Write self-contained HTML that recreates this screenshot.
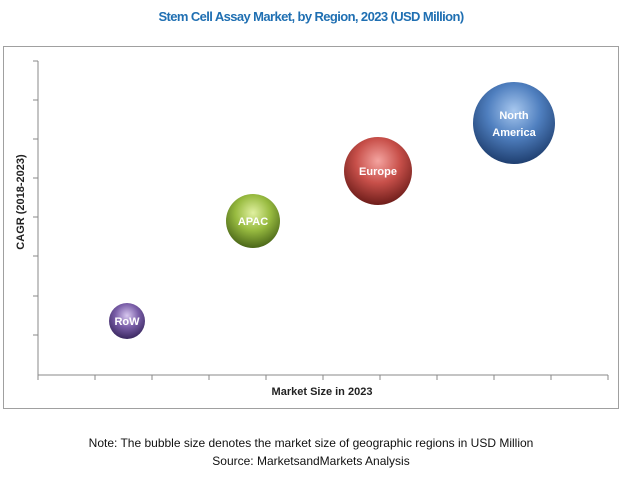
<!DOCTYPE html>
<html><head><style>
body{margin:0;background:#fff;width:623px;height:478px;overflow:hidden;font-family:"Liberation Sans",sans-serif}
</style></head><body>
<svg width="623" height="478" viewBox="0 0 623 478" xmlns="http://www.w3.org/2000/svg">
<defs>
<radialGradient id="gb" cx="0.5" cy="0.35" r="0.65"><stop offset="0" stop-color="#a8c8ef"/><stop offset="0.5" stop-color="#4f7fbf"/><stop offset="1" stop-color="#1f3f70"/></radialGradient>
<radialGradient id="gr" cx="0.5" cy="0.35" r="0.65"><stop offset="0" stop-color="#f4a4a0"/><stop offset="0.5" stop-color="#c8504a"/><stop offset="1" stop-color="#6e1d1a"/></radialGradient>
<radialGradient id="gg" cx="0.5" cy="0.35" r="0.65"><stop offset="0" stop-color="#e0f0a0"/><stop offset="0.5" stop-color="#98bb40"/><stop offset="1" stop-color="#4a6618"/></radialGradient>
<radialGradient id="gp" cx="0.5" cy="0.35" r="0.65"><stop offset="0" stop-color="#d8c8f0"/><stop offset="0.5" stop-color="#7a5ea8"/><stop offset="1" stop-color="#3a2860"/></radialGradient>
</defs>
<text x="311" y="21" text-anchor="middle" font-size="13" font-weight="bold" fill="#1f6fb2" letter-spacing="-0.6">Stem Cell Assay Market, by Region, 2023 (USD Million)</text>
<rect x="3.5" y="46.5" width="615" height="362" fill="none" stroke="#a0a0a0"/>
<g stroke="#888" stroke-width="1">
<line x1="38" y1="61" x2="38" y2="375"/>
<line x1="38" y1="375" x2="608" y2="375"/>
<line x1="33" y1="61" x2="38" y2="61"/><line x1="33" y1="100" x2="38" y2="100"/><line x1="33" y1="139" x2="38" y2="139"/><line x1="33" y1="178" x2="38" y2="178"/><line x1="33" y1="217" x2="38" y2="217"/><line x1="33" y1="256" x2="38" y2="256"/><line x1="33" y1="296" x2="38" y2="296"/><line x1="33" y1="335" x2="38" y2="335"/>
<line x1="38" y1="375" x2="38" y2="380"/><line x1="95" y1="375" x2="95" y2="380"/><line x1="152" y1="375" x2="152" y2="380"/><line x1="209" y1="375" x2="209" y2="380"/><line x1="266" y1="375" x2="266" y2="380"/><line x1="323" y1="375" x2="323" y2="380"/><line x1="380" y1="375" x2="380" y2="380"/><line x1="437" y1="375" x2="437" y2="380"/><line x1="494" y1="375" x2="494" y2="380"/><line x1="551" y1="375" x2="551" y2="380"/><line x1="608" y1="375" x2="608" y2="380"/>
</g>
<text x="0" y="0" transform="translate(24,202) rotate(-90)" text-anchor="middle" font-size="11" font-weight="bold" fill="#222">CAGR (2018-2023)</text>
<text x="322" y="395" text-anchor="middle" font-size="11" font-weight="bold" fill="#222">Market Size in 2023</text>
<circle cx="514" cy="123" r="41" fill="url(#gb)"/>
<circle cx="378" cy="171" r="34" fill="url(#gr)"/>
<circle cx="253" cy="221" r="27" fill="url(#gg)"/>
<circle cx="127" cy="321" r="18" fill="url(#gp)"/>
<g fill="#fff" font-size="11" font-weight="bold" text-anchor="middle">
<text x="514" y="119">North</text><text x="514" y="136">America</text>
<text x="378" y="175">Europe</text>
<text x="253" y="225">APAC</text>
<text x="127" y="325">RoW</text>
</g>
<text x="311" y="447" text-anchor="middle" font-size="12" fill="#111">Note: The bubble size denotes the market size of geographic regions in USD Million</text>
<text x="311" y="465" text-anchor="middle" font-size="12" fill="#111">Source: MarketsandMarkets Analysis</text>
</svg>
</body></html>
